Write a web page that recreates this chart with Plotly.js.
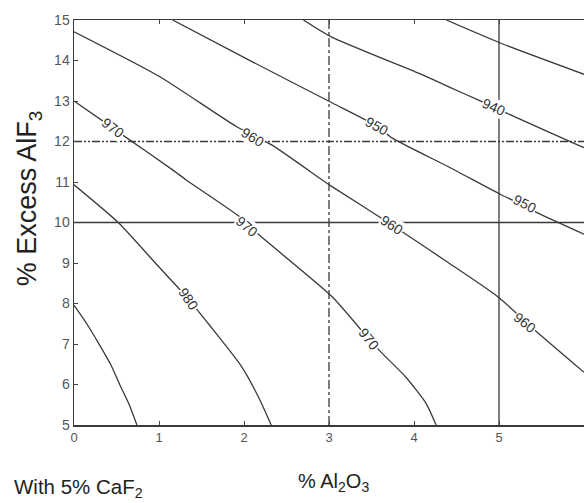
<!DOCTYPE html>
<html><head><meta charset="utf-8">
<script src="https://cdn.plot.ly/plotly-3.0.1.min.js"></script>
<style>html,body{margin:0;padding:0;background:#fff}</style>
</head><body><div id="chart" style="width:584px;height:503px"></div>
<script>
// Contour levels (liquidus temperature, °C)
const levels = [930, 940, 950, 960, 970, 980, 990];
const x930 = [4.38, 5.03, 6.0];
const y930 = [15.0, 14.42, 13.66];
const x940 = [2.7, 3.02, 4.06, 4.41, 4.76, 5.09, 5.93, 6.0];
const y940 = [15.0, 14.59, 13.68, 13.35, 13.02, 12.70, 11.91, 11.85];
const x950 = [1.16, 2.06, 3.04, 3.56, 3.74, 4.41, 5.03, 5.31, 5.46, 6.0];
const y950 = [15.0, 14.01, 12.95, 12.38, 12.09, 11.37, 10.68, 10.40, 10.23, 9.71];
const x960 = [0, 1.01, 1.91, 2.33, 2.92, 3.04, 3.74, 4.41, 4.99, 5.46, 6.0];
const y960 = [14.71, 13.60, 12.37, 11.91, 11.05, 10.88, 9.94, 9.0, 8.16, 7.27, 6.30];
const x970 = [0, 0.46, 0.62, 1.16, 1.32, 1.95, 2.18, 3.04, 3.47, 3.62, 3.90, 4.14, 4.26];
const y970 = [13.0, 12.33, 12.09, 11.30, 11.05, 10.14, 9.69, 8.16, 7.12, 6.78, 6.19, 5.54, 5.0];
const x980 = [0, 0.52, 1.0, 1.3, 1.6, 1.97, 2.18, 2.32];
const y980 = [10.93, 10.0, 8.9, 8.22, 7.45, 6.45, 5.65, 5.0];
const x990 = [0, 0.15, 0.30, 0.43, 0.54, 0.65, 0.74];
const y990 = [7.96, 7.5, 6.98, 6.5, 5.99, 5.5, 5.0];

// Contour label placements
const labelText = ['940', '950', '950', '960', '960', '960', '970', '970', '970', '980'];
const labelX = [4.94, 3.56, 5.31, 2.10, 3.74, 5.31, 0.46, 2.04, 3.47, 1.35];
const labelY = [12.85, 12.38, 10.46, 12.11, 9.94, 7.52, 12.33, 9.89, 7.12, 8.12];
const labelAngle = [24, 29, 27, 31, 33, 38, 37, 40, 52, 56];

// Reference lines
const refX = [3, 5];
const refY = [12, 10];

// Axis ticks
const xTicks = [0, 1, 2, 3, 4, 5, 6];
const yTicks = [5, 6, 7, 8, 9, 10, 11, 12, 13, 14, 15];

const xs = [x930, x940, x950, x960, x970, x980, x990];
const ys = [y930, y940, y950, y960, y970, y980, y990];

const FONT = 'Arial, Liberation Sans, sans-serif';
const lineColor = '#3a3a3a';
const traces = [];
levels.forEach((lv, i) => {
  traces.push({
    x: xs[i], y: ys[i], mode: 'lines', name: String(lv),
    line: {color: lineColor, width: 1.3, shape: 'spline', smoothing: 0.6},
    hoverinfo: 'skip', showlegend: false
  });
});
const xDash = ['dashdot', 'solid'];
refX.forEach((v, i) => {
  traces.push({x: [v, v], y: [5, 15], mode: 'lines',
    line: {color: lineColor, width: 1.3, dash: xDash[i]}, hoverinfo: 'skip', showlegend: false});
});
const yDash = ['8px,2px,2px,2px,2px,2px', 'solid'];
refY.forEach((v, i) => {
  traces.push({x: [0, 6], y: [v, v], mode: 'lines',
    line: {color: lineColor, width: 1.3, dash: yDash[i]}, hoverinfo: 'skip', showlegend: false});
});

const annotations = labelText.map((t, i) => ({
  x: labelX[i], y: labelY[i], xref: 'x', yref: 'y', text: t, showarrow: false,
  textangle: labelAngle[i], bgcolor: '#ffffff', borderpad: 0,
  font: {family: FONT, size: 14, color: '#333'}
}));
annotations.push({
  xref: 'paper', yref: 'paper', x: -0.088, y: 0.56, xanchor: 'center', yanchor: 'middle',
  text: '% Excess AlF<sub>3</sub>', showarrow: false, textangle: -90,
  font: {family: FONT, size: 27, color: '#222'}
});
annotations.push({
  xref: 'paper', yref: 'paper', x: 0.508, y: -0.143, xanchor: 'center', yanchor: 'middle',
  text: '% Al<sub>2</sub>O<sub>3</sub>', showarrow: false,
  font: {family: FONT, size: 20, color: '#222'}
});
annotations.push({
  xref: 'paper', yref: 'paper', x: -0.122, y: -0.156, xanchor: 'left', yanchor: 'middle',
  text: 'With 5% CaF<sub>2</sub>', showarrow: false,
  font: {family: FONT, size: 20.5, color: '#222'}
});

const layout = {
  width: 584, height: 503,
  margin: {l: 74, r: 0, t: 20, b: 78},
  paper_bgcolor: '#fff', plot_bgcolor: '#fff',
  showlegend: false,
  xaxis: {
    range: [0, 6], tickvals: xTicks, ticks: 'inside', ticklen: 4, tickcolor: '#444',
    showline: true, mirror: 'ticks', linecolor: '#3a3a3a', linewidth: 1.5,
    showgrid: false, zeroline: false, fixedrange: true,
    tickfont: {family: FONT, size: 13, color: '#555'}
  },
  yaxis: {
    range: [5, 15], tickvals: yTicks, ticks: 'inside', ticklen: 4, tickcolor: '#444',
    showline: true, mirror: false, linecolor: '#3a3a3a', linewidth: 1.5,
    showgrid: false, zeroline: false, fixedrange: true, automargin: false,
    tickfont: {family: FONT, size: 14, color: '#555'}
  },
  annotations: annotations
};

Plotly.newPlot('chart', traces, layout, {staticPlot: true, displayModeBar: false});
</script>
</body></html>
